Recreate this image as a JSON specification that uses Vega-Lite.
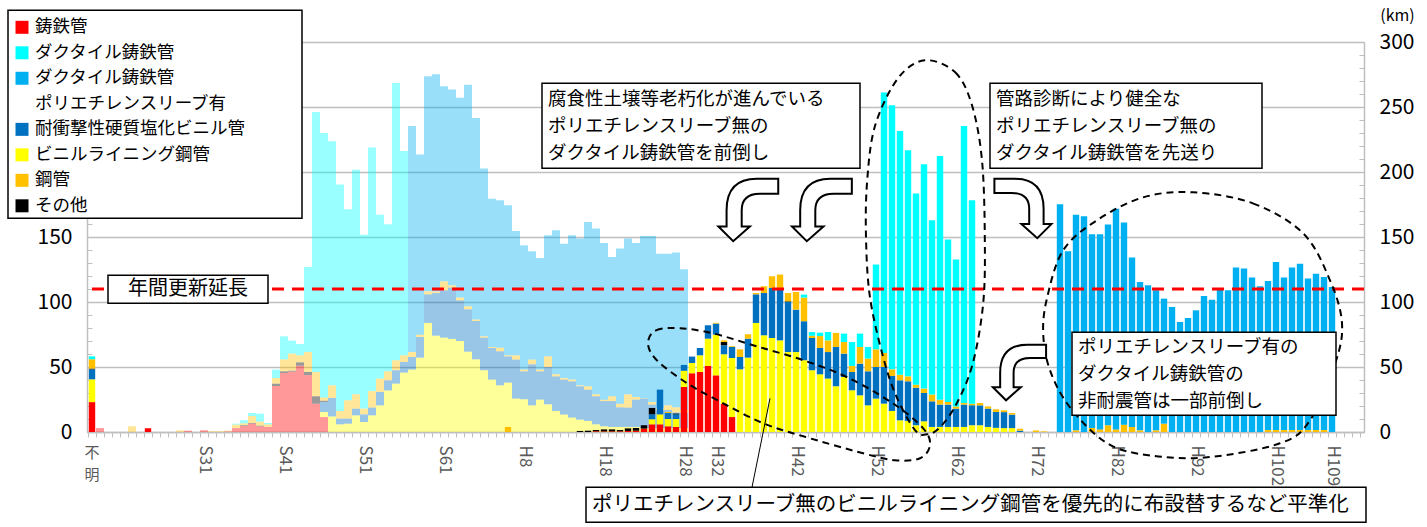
{
  "$schema": "https://vega.github.io/schema/vega-lite/v6.json",
  "width": 1277,
  "height": 390,
  "autosize": {"type": "none"},
  "padding": {"left": 87, "top": 42, "right": 63, "bottom": 95},
  "background": "white",
  "config": {"font": "Noto Sans CJK JP", "view": {"stroke": null}},
  "datasets": {
    "types": [
      {"t": "ci", "rank": 1}, {"t": "vlp", "rank": 2}, {"t": "hi", "rank": 3}, {"t": "ot", "rank": 4},
      {"t": "sp", "rank": 5}, {"t": "di", "rank": 6}, {"t": "dip", "rank": 7}
    ],
    "past": [
      {"year":"S18","ci":3},{"year":"S22","sp":4.4},{"year":"S28","sp":1.2},{"year":"S29","ci":1},{"year":"S31","ci":1.3},
      {"year":"S32","sp":0.6},{"year":"S33","sp":0.6},{"year":"S34","ci":0.5,"sp":0.5},
      {"year":"S35","ci":3,"sp":2.7,"di":0.7},{"year":"S36","ci":4.6,"ot":0.6,"sp":1.5,"di":2.3},
      {"year":"S37","ci":6.4,"ot":0.5,"sp":5.4,"di":2.3},{"year":"S38","ci":4.4,"ot":0.5,"sp":3.1,"di":6.1},
      {"year":"S39","ci":3.9,"sp":2,"di":1},{"year":"S40","ci":35.4,"ot":1.8,"sp":4.3,"di":6.5},
      {"year":"S41","ci":45.4,"ot":1.3,"sp":9.2,"di":17.7},{"year":"S42","ci":46.5,"ot":0.7,"sp":13.1,"di":10},
      {"year":"S43","ci":51,"ot":2.6,"sp":5.4,"di":8.7},{"year":"S44","ci":43.8,"ot":2.4,"sp":15.3,"di":65.5},
      {"year":"S45","ci":21.8,"ot":5.7,"sp":18.7,"di":200},{"year":"S46","ci":11.5,"vlp":3.9,"hi":7.7,"ot":1,"sp":2.5,"di":203.4},
      {"year":"S47","vlp":12,"hi":14.2,"sp":9.7,"di":187.7},{"year":"S48","vlp":5.9,"hi":4.4,"sp":5.9,"di":174.1},
      {"year":"S49","vlp":6.4,"hi":3.9,"sp":14.1,"di":146.9},{"year":"S50","vlp":12.8,"hi":5.2,"sp":11,"di":172.8},
      {"year":"S51","vlp":7.7,"hi":5.9,"sp":4.4,"di":133.8},{"year":"S52","vlp":12.8,"hi":6,"sp":12.7,"di":187.3},
      {"year":"S53","vlp":20.5,"hi":10.3,"sp":10.3,"di":126.1},{"year":"S54","vlp":32,"hi":7.8,"sp":6.9,"di":113.1},
      {"year":"S55","vlp":37.2,"hi":10.3,"sp":7.7,"di":213.3},{"year":"S56","vlp":45.7,"hi":8.2,"sp":5.1,"di":157.2},
      {"year":"S57","vlp":48,"hi":9.7,"sp":3.8,"dip":173.9},{"year":"S58","vlp":57.2,"hi":15.9,"sp":1.8,"dip":138.5},
      {"year":"S59","vlp":83.9,"hi":22,"sp":2.3,"dip":165.4},{"year":"S60","vlp":74.1,"hi":32.8,"sp":1.1,"dip":167.2},
      {"year":"S61","vlp":72.6,"hi":36.4,"sp":6.9,"dip":150},{"year":"S62","vlp":71.6,"hi":39.5,"sp":1.7,"dip":150.6},
      {"year":"S63","vlp":70,"hi":31.3,"sp":2.1,"dip":153.8},{"year":"H1","vlp":61.8,"hi":32.6,"sp":2.3,"dip":170.5},
      {"year":"H2","vlp":55.9,"hi":29.5,"sp":1.1,"dip":155},{"year":"H3","vlp":47.5,"hi":25.1,"sp":1,"dip":129},
      {"year":"H4","vlp":40.3,"hi":24.3,"sp":0.8,"dip":114.1},{"year":"H5","vlp":35.9,"hi":26.2,"sp":2.8,"dip":113.3},
      {"year":"H6","vlp":38,"hi":20.2,"sp":0.8,"dip":115.4},{"year":"H7","vlp":25.7,"hi":30,"sp":3.3,"dip":95.6},
      {"year":"H8","vlp":25.2,"hi":21.5,"sp":1.3,"dip":95.6},{"year":"H9","vlp":20.5,"hi":31.6,"sp":3.6,"dip":83.3},
      {"year":"H10","vlp":24.9,"hi":21.8,"sp":1.3,"dip":85.8},{"year":"H11","vlp":21.3,"hi":28.7,"sp":8.2,"dip":93.1},
      {"year":"H12","vlp":16.2,"hi":26.6,"sp":1.6,"dip":110.8},{"year":"H13","vlp":13.4,"hi":26.9,"sp":1.2,"dip":103.4},
      {"year":"H14","vlp":11.1,"hi":27.9,"sp":1.3,"dip":111},{"year":"H15","vlp":9.5,"hi":25.7,"sp":0.7,"dip":112.9},
      {"year":"H16","vlp":8.5,"hi":24.1,"sp":2.6,"dip":126.3},{"year":"H17","vlp":5.9,"hi":21.6,"sp":1.5,"dip":127.5},
      {"year":"H18","vlp":4.4,"hi":19.4,"sp":1.1,"dip":120.5},{"year":"H19","vlp":3.9,"hi":19.9,"sp":3.7,"dip":107.1},
      {"year":"H20","vlp":3.9,"hi":15.1,"sp":2.8,"dip":119.3},{"year":"H21","vlp":3.9,"hi":14.9,"sp":10.2,"dip":119.8},
      {"year":"H22","vlp":3.9,"hi":21,"sp":2,"dip":118.5},{"year":"H23","vlp":3,"hi":22.7,"sp":0.3,"dip":124.8},
      {"year":"H24","vlp":3,"hi":18.1,"sp":1.9,"dip":127.8},{"year":"H25","vlp":3,"hi":13.7,"sp":1.3,"dip":119.2},
      {"year":"H26","vlp":3,"hi":14,"sp":3.5,"dip":116.7},{"year":"H27","vlp":3,"hi":12,"sp":4,"dip":119},
      {"year":"H28","vlp":3,"hi":12,"sp":2,"dip":108.2}
    ],
    "plan": [
      {"year":"不明","ci":23,"vlp":17.5,"hi":7.7,"ot":0.6,"sp":7.2,"di":2.2},
      {"year":"S24","ci":2.8},{"year":"H6","sp":3.9},
      {"year":"H15","ot":0.8},{"year":"H16","ot":1},{"year":"H17","ci":0.5,"ot":1},{"year":"H18","ci":0.5,"ot":1.5},
      {"year":"H19","ci":0.5,"ot":1.5},{"year":"H20","ci":0.5,"ot":1},{"year":"H21","ci":0.8,"ot":2},{"year":"H22","ci":1,"ot":2.1},
      {"year":"H23","ci":2.6,"ot":2.6},{"year":"H24","ci":5.9,"vlp":3.9,"hi":3.8,"ot":4.9},
      {"year":"H25","ci":5.9,"vlp":7.7,"hi":19},{"year":"H26","ci":4.4,"vlp":5.6,"hi":4.6,"sp":0.8},
      {"year":"H27","ci":3.9,"vlp":6.1,"hi":3.6,"ot":0.6},{"year":"H28","ci":34.6,"vlp":12.5,"hi":4.5},
      {"year":"H29","ci":45.2,"vlp":7.9,"hi":4.9},{"year":"H30","ci":46.2,"vlp":12.8,"hi":5.6},
      {"year":"H31","ci":50.8,"vlp":21,"hi":10.3},{"year":"H32","ci":43.6,"vlp":31.3,"hi":8.5,"sp":0.6},
      {"year":"H33","ci":21.8,"vlp":38,"hi":6.9,"ot":2.5,"sp":1.3},{"year":"H34","ci":11.5,"vlp":45.4,"hi":8.5,"sp":0.6},
      {"year":"H35","vlp":48.2,"hi":9.5,"sp":5.9},{"year":"H36","vlp":57.2,"hi":14.6,"sp":3.4},
      {"year":"H37","vlp":83.9,"hi":22,"sp":1},{"year":"H38","vlp":74.4,"hi":32.5,"sp":5.2},
      {"year":"H39","vlp":72.3,"hi":38.5,"sp":9},{"year":"H40","vlp":70.5,"hi":40.3,"sp":10.3},
      {"year":"H41","vlp":61.5,"hi":38.5,"ot":0.5,"sp":6.4},{"year":"H42","vlp":61.5,"hi":32.6,"sp":13.6},
      {"year":"H43","vlp":55.2,"hi":30,"sp":18.2,"di":2.3},{"year":"H44","vlp":47.5,"hi":24.8,"sp":1.7,"di":2.9},
      {"year":"H45","vlp":44.4,"hi":20.2,"sp":9.2,"di":2.6},{"year":"H46","vlp":41.1,"hi":20.4,"sp":9,"di":6.4},
      {"year":"H47","vlp":35.2,"hi":30.2,"sp":10.8},{"year":"H48","vlp":42.3,"hi":18,"sp":8.9,"di":6.5},
      {"year":"H49","vlp":32.1,"hi":14.1,"sp":4.6,"di":18.4},{"year":"H50","vlp":28.2,"hi":24.4,"sp":12.8,"di":10.3},
      {"year":"H51","vlp":20.5,"hi":26.2,"sp":9.8,"di":8.9},{"year":"H52","vlp":25.7,"hi":24.3,"sp":13.6,"di":65.2},
      {"year":"H53","vlp":21.8,"hi":28.2,"sp":10.8,"di":200.3},{"year":"H54","vlp":16.2,"hi":26.9,"sp":5.1,"di":203.1},
      {"year":"H55","vlp":9,"hi":30.8,"sp":4.3,"di":187.4},{"year":"H56","vlp":8.5,"hi":30.5,"sp":3.8,"di":173.9},
      {"year":"H57","vlp":5.2,"hi":28.9,"sp":2.3,"di":147},{"year":"H58","vlp":8.2,"hi":21.8,"sp":3.4,"di":172.5},
      {"year":"H59","vlp":3.9,"hi":19.7,"sp":5.2,"di":134},{"year":"H60","vlp":3.9,"hi":17.2,"sp":3.8,"di":187.4},
      {"year":"H61","vlp":3.9,"hi":17.2,"sp":2,"di":124.9},{"year":"H62","vlp":3.9,"hi":14.1,"sp":1.7,"di":112.9},
      {"year":"H63","vlp":3.9,"hi":17.2,"sp":1.2,"di":213.1},{"year":"H64","vlp":5.2,"hi":15.4,"sp":1.2,"di":156.4},
      {"year":"H65","vlp":5.2,"hi":15.3,"sp":1.8},{"year":"H66","vlp":3.9,"hi":14.1,"sp":1.7},
      {"year":"H67","vlp":3.2,"hi":12.2,"sp":2.1},{"year":"H68","vlp":3,"hi":12.3,"sp":1.4},
      {"year":"H69","vlp":3,"hi":10.4,"sp":1.2},{"year":"H70","hi":1,"sp":1.5},{"year":"H72","sp":1.2},{"year":"H73","sp":0.5},
      {"year":"H75","dip":175.2},{"year":"H76","dip":139},{"year":"H77","sp":1.3,"dip":165.9},{"year":"H78","dip":165.9},
      {"year":"H79","sp":3.1,"dip":149},{"year":"H80","sp":2,"dip":150.1},{"year":"H81","sp":5.2,"dip":154.5},
      {"year":"H82","sp":2,"dip":169.7},{"year":"H83","sp":5.6,"dip":155.5},{"year":"H84","sp":3.9,"dip":130.3},
      {"year":"H85","sp":1.3,"dip":114.1},{"year":"H86","dip":112.8},{"year":"H87","sp":1.3,"dip":107.7},
      {"year":"H88","sp":6.4,"dip":96.2},{"year":"H89","dip":96.2},{"year":"H90","dip":84.6},{"year":"H91","dip":87.7},
      {"year":"H92","dip":93.6},{"year":"H93","dip":104.6},{"year":"H94","dip":101.8},{"year":"H95","dip":110},
      {"year":"H96","dip":109},{"year":"H97","dip":126.5},{"year":"H98","dip":125.7},{"year":"H99","dip":118.8},
      {"year":"H100","dip":112.1},{"year":"H101","sp":1.5,"dip":114.7},{"year":"H102","sp":1.5,"dip":129.3},
      {"year":"H103","sp":1.5,"dip":117.3},{"year":"H104","sp":1.5,"dip":125},{"year":"H105","sp":1.5,"dip":128},
      {"year":"H106","sp":1.5,"dip":116.5},{"year":"H107","sp":1.5,"dip":120.3},{"year":"H108","sp":1.5,"dip":117.7},
      {"year":"H109","dip":111.5}
    ],
    "outline": [
      {"e":"A","n":1,"i":69.5,"km":68.2},{"e":"A","n":2,"i":70.5,"km":78.2},{"e":"A","n":3,"i":73.5,"km":79.8},
      {"e":"A","n":4,"i":77.6,"km":75.9},{"e":"A","n":5,"i":83.1,"km":65.9},{"e":"A","n":6,"i":88.9,"km":55.2},
      {"e":"A","n":7,"i":94.4,"km":42.1},{"e":"A","n":8,"i":100.1,"km":22.1},{"e":"A","n":9,"i":103.9,"km":2.8},
      {"e":"A","n":10,"i":104.75,"km":-10.2},{"e":"A","n":11,"i":103.5,"km":-20.2},{"e":"A","n":12,"i":100.4,"km":-21.8},
      {"e":"A","n":13,"i":96.4,"km":-16.4},{"e":"A","n":14,"i":88.9,"km":-3.3},{"e":"A","n":15,"i":83.9,"km":6.7},
      {"e":"A","n":16,"i":78.9,"km":22.1},{"e":"A","n":17,"i":74.4,"km":37.5},{"e":"A","n":18,"i":70.6,"km":55.2},
      {"e":"B","n":1,"i":104.1,"km":285.9},{"e":"B","n":2,"i":107.9,"km":276.7},{"e":"B","n":3,"i":110,"km":251.3},
      {"e":"B","n":4,"i":111.25,"km":209},{"e":"B","n":5,"i":111.6,"km":149.8},{"e":"B","n":6,"i":111.4,"km":99},
      {"e":"B","n":7,"i":110.1,"km":52.8},{"e":"B","n":8,"i":108.1,"km":22.1},{"e":"B","n":9,"i":106,"km":3.6},
      {"e":"B","n":10,"i":104.4,"km":-1.8},{"e":"B","n":11,"i":102.9,"km":1.3},{"e":"B","n":12,"i":100.6,"km":26.7},
      {"e":"B","n":13,"i":98.9,"km":57.5},{"e":"B","n":14,"i":97.25,"km":103.6},{"e":"B","n":15,"i":96.75,"km":149.8},
      {"e":"B","n":16,"i":96.9,"km":193.6},{"e":"B","n":17,"i":97.9,"km":235.9},{"e":"B","n":18,"i":100.75,"km":272.1},
      {"e":"C","n":1,"i":137.6,"km":184.4},{"e":"C","n":2,"i":145.1,"km":175.9},{"e":"C","n":3,"i":151.4,"km":152.8},
      {"e":"C","n":4,"i":154.75,"km":116.7},{"e":"C","n":5,"i":156.25,"km":83.6},{"e":"C","n":6,"i":155.4,"km":52.8},
      {"e":"C","n":7,"i":152.25,"km":9},{"e":"C","n":8,"i":148.5,"km":-8.7},{"e":"C","n":9,"i":139.4,"km":-19.5},
      {"e":"C","n":10,"i":132.25,"km":-18},{"e":"C","n":11,"i":126.9,"km":-8.7},{"e":"C","n":12,"i":122.25,"km":19},
      {"e":"C","n":13,"i":119.75,"km":47.5},{"e":"C","n":14,"i":118.9,"km":75.9},{"e":"C","n":15,"i":119.4,"km":103.6},
      {"e":"C","n":16,"i":121.4,"km":139.8},{"e":"C","n":17,"i":125.6,"km":162.8},{"e":"C","n":18,"i":131.4,"km":180.5}
    ]
  },
  "layer": [
    {
      "resolve": {"axis": {"y": "independent"}},
      "layer": [
        {
          "data": {"name": "past"},
          "transform": [
            {"fold": ["ci", "vlp", "hi", "ot", "sp", "di", "dip"], "as": ["t", "v"]},
            {"filter": "datum.v > 0"},
            {"lookup": "t", "from": {"data": {"name": "types"}, "key": "t", "fields": ["rank"]}}
          ],
          "mark": {"type": "bar", "opacity": 0.4},
          "encoding": {
            "x": {
              "field": "year", "type": "nominal",
              "scale": {
                "domain": ["不明","S18","S19","S20","S21","S22","S23","S24","S25","S26","S27","S28","S29","S30","S31","S32","S33","S34","S35","S36","S37","S38","S39","S40","S41","S42","S43","S44","S45","S46","S47","S48","S49","S50","S51","S52","S53","S54","S55","S56","S57","S58","S59","S60","S61","S62","S63","H1","H2","H3","H4","H5","H6","H7","H8","H9","H10","H11","H12","H13","H14","H15","H16","H17","H18","H19","H20","H21","H22","H23","H24","H25","H26","H27","H28","H29","H30","H31","H32","H33","H34","H35","H36","H37","H38","H39","H40","H41","H42","H43","H44","H45","H46","H47","H48","H49","H50","H51","H52","H53","H54","H55","H56","H57","H58","H59","H60","H61","H62","H63","H64","H65","H66","H67","H68","H69","H70","H71","H72","H73","H74","H75","H76","H77","H78","H79","H80","H81","H82","H83","H84","H85","H86","H87","H88","H89","H90","H91","H92","H93","H94","H95","H96","H97","H98","H99","H100","H101","H102","H103","H104","H105","H106","H107","H108","H109","H110","H111","H112"],
                "paddingInner": 0, "paddingOuter": 0.3125, "align": 0.2
              },
              "axis": {
                "title": null, "labelAngle": 90, "labelAlign": "left", "labelBaseline": "middle",
                "labelExpr": "indexof(['S31','S41','S51','S61','H8','H18','H28','H32','H42','H52','H62','H72','H82','H92','H102','H109'], datum.value) >= 0 ? datum.value : ''",
                "labelOverlap": false, "labelFontSize": 17, "labelColor": "#595959", "labelPadding": 8,
                "tickBand": "extent", "tickSize": 5, "tickColor": "#BFBFBF", "tickWidth": 1,
                "domainColor": "#BFBFBF", "domainWidth": 1.5, "grid": false
              }
            },
            "y": {
              "field": "v", "type": "quantitative", "stack": "zero",
              "scale": {"domain": [0, 300], "nice": false, "zero": true},
              "axis": {
                "orient": "left", "title": null,
                "values": [0,10,20,30,40,50,60,70,80,90,100,110,120,130,140,150,160,170,180,190,200,210,220,230,240,250,260,270,280,290,300],
                "labelExpr": "datum.value % 50 === 0 && datum.value <= 150 ? datum.label : ''",
                "grid": true, "gridColor": "#BFBFBF", "gridWidth": 1.5,
                "gridOpacity": {"condition": {"test": "datum.value % 50 === 0", "value": 1}, "value": 0},
                "tickSize": -5, "tickColor": "#BFBFBF", "domainColor": "#BFBFBF", "domainWidth": 1.5,
                "labelFontSize": 21, "labelColor": "#000000", "labelPadding": 20
              }
            },
            "color": {
              "field": "t", "type": "nominal",
              "scale": {"domain": ["ci","vlp","hi","ot","sp","di","dip"], "range": ["#FF0000","#FFFF00","#0070C0","#000000","#FFC000","#00FFFF","#00B0F0"]},
              "legend": null
            },
            "order": {"field": "rank", "type": "quantitative", "sort": "ascending"}
          }
        },
        {
          "data": {"name": "plan"},
          "transform": [
            {"fold": ["ci", "vlp", "hi", "ot", "sp", "di", "dip"], "as": ["t", "v"]},
            {"filter": "datum.v > 0"},
            {"lookup": "t", "from": {"data": {"name": "types"}, "key": "t", "fields": ["rank"]}}
          ],
          "mark": {"type": "bar", "width": {"band": 0.8}},
          "encoding": {
            "x": {
              "field": "year", "type": "nominal",
              "axis": {
                "title": null, "labelAngle": 90, "labelAlign": "left", "labelBaseline": "middle",
                "labelExpr": "indexof(['S31','S41','S51','S61','H8','H18','H28','H32','H42','H52','H62','H72','H82','H92','H102','H109'], datum.value) >= 0 ? datum.value : ''",
                "labelOverlap": false, "labelFontSize": 17, "labelColor": "#595959", "labelPadding": 8,
                "tickBand": "extent", "tickSize": 5, "tickColor": "#BFBFBF", "tickWidth": 1,
                "domainColor": "#BFBFBF", "domainWidth": 1.5, "grid": false
              }
            },
            "y": {
              "field": "v", "type": "quantitative", "stack": "zero",
              "scale": {"domain": [0, 300], "nice": false},
              "axis": {
                "orient": "right", "title": "(km)", "titleAngle": 0, "titleX": 33, "titleY": -27,
                "titleAlign": "center", "titleBaseline": "middle", "titleFontSize": 16, "titleFontWeight": "normal", "titleColor": "#000000",
                "values": [0,10,20,30,40,50,60,70,80,90,100,110,120,130,140,150,160,170,180,190,200,210,220,230,240,250,260,270,280,290,300],
                "labelExpr": "datum.value % 50 === 0 ? datum.label : ''",
                "grid": false, "tickSize": -5, "tickColor": "#BFBFBF", "domainColor": "#BFBFBF", "domainWidth": 1.5,
                "labelFontSize": 21, "labelColor": "#000000", "labelPadding": 20
              }
            },
            "color": {"field": "t", "type": "nominal", "legend": null},
            "order": {"field": "rank", "type": "quantitative", "sort": "ascending"}
          }
        },
        {
          "data": {"values": [{}]},
          "mark": {"type": "rule", "color": "#FF0000", "strokeWidth": 3, "strokeDash": [12, 8]},
          "encoding": {"y": {"datum": 110, "type": "quantitative", "axis": null}}
        },
        {
          "data": {"values": [{}]},
          "mark": {"type": "text", "text": ["不", "明"], "fontSize": 15, "lineHeight": 22, "color": "#595959", "baseline": "top", "align": "center"},
          "encoding": {
            "x": {
              "datum": "不明", "type": "nominal",
              "axis": {
                "title": null, "labelAngle": 90, "labelAlign": "left", "labelBaseline": "middle",
                "labelExpr": "indexof(['S31','S41','S51','S61','H8','H18','H28','H32','H42','H52','H62','H72','H82','H92','H102','H109'], datum.value) >= 0 ? datum.value : ''",
                "labelOverlap": false, "labelFontSize": 17, "labelColor": "#595959", "labelPadding": 8,
                "tickBand": "extent", "tickSize": 5, "tickColor": "#BFBFBF", "tickWidth": 1,
                "domainColor": "#BFBFBF", "domainWidth": 1.5, "grid": false
              }
            },
            "y": {"datum": -11, "type": "quantitative", "axis": null}
          }
        }
      ]
    },
    {
      "layer": [
        {
          "data": {"name": "outline"},
          "mark": {"type": "line", "interpolate": "cardinal-closed", "color": "#000000", "strokeWidth": 2, "strokeDash": [7, 5]},
          "encoding": {
            "x": {"field": "i", "type": "quantitative", "scale": {"domain": [-0.625, 159], "nice": false, "zero": false}, "axis": null},
            "y": {"field": "km", "type": "quantitative", "axis": null},
            "detail": {"field": "e"},
            "order": {"field": "n", "type": "quantitative"}
          }
        },
        {
          "data": {"values": [{}]},
          "mark": {"type": "rule", "color": "#000000", "strokeWidth": 1},
          "encoding": {
            "x": {"datum": 84.75, "type": "quantitative", "axis": null}, "x2": {"datum": 82.5},
            "y": {"datum": 25.9, "type": "quantitative", "axis": null}, "y2": {"datum": -42.5}
          }
        },
        {
          "data": {"values": [{}]},
          "mark": {"type": "rect", "fill": "#FFFFFF", "stroke": "#000000", "strokeWidth": 1.5},
          "encoding": {
            "x": {"datum": -10.5, "type": "quantitative", "axis": null}, "x2": {"datum": 26.25},
            "y": {"datum": 324.4, "type": "quantitative", "axis": null}, "y2": {"datum": 164.4}
          }
        },
        {
          "data": {"values": [{}]},
          "mark": {"type": "text", "text": ["鋳鉄管", "ダクタイル鋳鉄管", "ダクタイル鋳鉄管", "ポリエチレンスリーブ有", "耐衝撃性硬質塩化ビニル管", "ビニルライニング鋼管", "鋼管", "その他"], "fontSize": 17.5, "lineHeight": 25.5, "color": "#000000", "align": "left", "baseline": "middle"},
          "encoding": {
            "x": {"datum": -7.125, "type": "quantitative", "axis": null},
            "y": {"datum": 311.3, "type": "quantitative", "axis": null}
          }
        },
        {
          "data": {"values": [{}]},
          "mark": {"type": "point", "shape": "square", "size": 169, "filled": true, "color": "#FF0000", "opacity": 1},
          "encoding": {"x": {"datum": -8.75, "type": "quantitative", "axis": null}, "y": {"datum": 311.3, "type": "quantitative", "axis": null}}
        },
        {
          "data": {"values": [{}]},
          "mark": {"type": "point", "shape": "square", "size": 169, "filled": true, "color": "#00FFFF", "opacity": 1},
          "encoding": {"x": {"datum": -8.75, "type": "quantitative", "axis": null}, "y": {"datum": 291.7, "type": "quantitative", "axis": null}}
        },
        {
          "data": {"values": [{}]},
          "mark": {"type": "point", "shape": "square", "size": 169, "filled": true, "color": "#00B0F0", "opacity": 1},
          "encoding": {"x": {"datum": -8.75, "type": "quantitative", "axis": null}, "y": {"datum": 272.1, "type": "quantitative", "axis": null}}
        },
        {
          "data": {"values": [{}]},
          "mark": {"type": "point", "shape": "square", "size": 169, "filled": true, "color": "#0070C0", "opacity": 1},
          "encoding": {"x": {"datum": -8.75, "type": "quantitative", "axis": null}, "y": {"datum": 232.8, "type": "quantitative", "axis": null}}
        },
        {
          "data": {"values": [{}]},
          "mark": {"type": "point", "shape": "square", "size": 169, "filled": true, "color": "#FFFF00", "opacity": 1},
          "encoding": {"x": {"datum": -8.75, "type": "quantitative", "axis": null}, "y": {"datum": 213.2, "type": "quantitative", "axis": null}}
        },
        {
          "data": {"values": [{}]},
          "mark": {"type": "point", "shape": "square", "size": 169, "filled": true, "color": "#FFC000", "opacity": 1},
          "encoding": {"x": {"datum": -8.75, "type": "quantitative", "axis": null}, "y": {"datum": 193.6, "type": "quantitative", "axis": null}}
        },
        {
          "data": {"values": [{}]},
          "mark": {"type": "point", "shape": "square", "size": 169, "filled": true, "color": "#000000", "opacity": 1},
          "encoding": {"x": {"datum": -8.75, "type": "quantitative", "axis": null}, "y": {"datum": 174.0, "type": "quantitative", "axis": null}}
        },
        {
          "data": {"values": [{}]},
          "mark": {"type": "rect", "fill": "#FFFFFF", "stroke": "#000000", "strokeWidth": 1.5},
          "encoding": {
            "x": {"datum": 2, "type": "quantitative", "axis": null}, "x2": {"datum": 22},
            "y": {"datum": 120.5, "type": "quantitative", "axis": null}, "y2": {"datum": 99}
          }
        },
        {
          "data": {"values": [{}]},
          "mark": {"type": "text", "text": "年間更新延長", "fontSize": 20, "color": "#000000", "align": "center", "baseline": "middle"},
          "encoding": {
            "x": {"datum": 12, "type": "quantitative", "axis": null},
            "y": {"datum": 109.8, "type": "quantitative", "axis": null}
          }
        },
        {
          "data": {"values": [{}]},
          "mark": {"type": "rect", "fill": "#FFFFFF", "stroke": "#000000", "strokeWidth": 1.5},
          "encoding": {
            "x": {"datum": 56.25, "type": "quantitative", "axis": null}, "x2": {"datum": 96},
            "y": {"datum": 268.2, "type": "quantitative", "axis": null}, "y2": {"datum": 202.8}
          }
        },
        {
          "data": {"values": [{}]},
          "mark": {"type": "text", "text": ["腐食性土壌等老朽化が進んでいる", "ポリエチレンスリーブ無の", "ダクタイル鋳鉄管を前倒し"], "fontSize": 18.5, "lineHeight": 27, "color": "#000000", "align": "left", "baseline": "middle"},
          "encoding": {
            "x": {"datum": 57, "type": "quantitative", "axis": null},
            "y": {"datum": 255.9, "type": "quantitative", "axis": null}
          }
        },
        {
          "data": {"values": [{}]},
          "mark": {"type": "rect", "fill": "#FFFFFF", "stroke": "#000000", "strokeWidth": 1.5},
          "encoding": {
            "x": {"datum": 112.25, "type": "quantitative", "axis": null}, "x2": {"datum": 146.25},
            "y": {"datum": 268.2, "type": "quantitative", "axis": null}, "y2": {"datum": 202.8}
          }
        },
        {
          "data": {"values": [{}]},
          "mark": {"type": "text", "text": ["管路診断により健全な", "ポリエチレンスリーブ無の", "ダクタイル鋳鉄管を先送り"], "fontSize": 18.5, "lineHeight": 27, "color": "#000000", "align": "left", "baseline": "middle"},
          "encoding": {
            "x": {"datum": 113, "type": "quantitative", "axis": null},
            "y": {"datum": 255.9, "type": "quantitative", "axis": null}
          }
        },
        {
          "data": {"values": [{}]},
          "mark": {"type": "rect", "fill": "#FFFFFF", "stroke": "#000000", "strokeWidth": 1.5},
          "encoding": {
            "x": {"datum": 122.5, "type": "quantitative", "axis": null}, "x2": {"datum": 155.5},
            "y": {"datum": 76.7, "type": "quantitative", "axis": null}, "y2": {"datum": 12.8}
          }
        },
        {
          "data": {"values": [{}]},
          "mark": {"type": "text", "text": ["ポリエチレンスリーブ有の", "ダクタイル鋳鉄管の", "非耐震管は一部前倒し"], "fontSize": 18.5, "lineHeight": 27, "color": "#000000", "align": "left", "baseline": "middle"},
          "encoding": {
            "x": {"datum": 123.25, "type": "quantitative", "axis": null},
            "y": {"datum": 65.2, "type": "quantitative", "axis": null}
          }
        },
        {
          "data": {"values": [{}]},
          "mark": {"type": "rect", "fill": "#FFFFFF", "stroke": "#000000", "strokeWidth": 1.5},
          "encoding": {
            "x": {"datum": 61.75, "type": "quantitative", "axis": null}, "x2": {"datum": 159.25},
            "y": {"datum": -42.5, "type": "quantitative", "axis": null}, "y2": {"datum": -69.5}
          }
        },
        {
          "data": {"values": [{}]},
          "mark": {"type": "text", "text": "ポリエチレンスリーブ無のビニルライニング鋼管を優先的に布設替するなど平準化", "fontSize": 20.5, "color": "#000000", "align": "left", "baseline": "middle"},
          "encoding": {
            "x": {"datum": 62.5, "type": "quantitative", "axis": null},
            "y": {"datum": -56.4, "type": "quantitative", "axis": null}
          }
        },
        {
          "data": {"values": [{}]},
          "mark": {"type": "point", "shape": "M0.96,-1 L0.96,-0.53 L0.38,-0.53 Q-0.2,-0.53 -0.2,0 L-0.2,0.51 L0.06,0.51 L-0.47,0.98 L-0.94,0.51 L-0.68,0.51 L-0.68,0 Q-0.68,-1 0.28,-1 Z", "size": 3969, "filled": true, "fill": "#FFFFFF", "stroke": "#000000", "strokeWidth": 2, "opacity": 1},
          "encoding": {
            "x": {"datum": 82, "type": "quantitative", "axis": null},
            "y": {"datum": 170.5, "type": "quantitative", "axis": null}
          }
        },
        {
          "data": {"values": [{}]},
          "mark": {"type": "point", "shape": "M0.96,-1 L0.96,-0.53 L0.38,-0.53 Q-0.2,-0.53 -0.2,0 L-0.2,0.51 L0.06,0.51 L-0.47,0.98 L-0.94,0.51 L-0.68,0.51 L-0.68,0 Q-0.68,-1 0.28,-1 Z", "size": 3969, "filled": true, "fill": "#FFFFFF", "stroke": "#000000", "strokeWidth": 2, "opacity": 1},
          "encoding": {
            "x": {"datum": 91.2, "type": "quantitative", "axis": null},
            "y": {"datum": 170.5, "type": "quantitative", "axis": null}
          }
        },
        {
          "data": {"values": [{}]},
          "mark": {"type": "point", "shape": "M-0.96,-1 L-0.96,-0.53 L-0.38,-0.53 Q0.2,-0.53 0.2,0 L0.2,0.51 L-0.06,0.51 L0.47,0.98 L0.94,0.51 L0.68,0.51 L0.68,0 Q0.68,-1 -0.28,-1 Z", "size": 3600, "filled": true, "fill": "#FFFFFF", "stroke": "#000000", "strokeWidth": 2, "opacity": 1},
          "encoding": {
            "x": {"datum": 116.4, "type": "quantitative", "axis": null},
            "y": {"datum": 171.7, "type": "quantitative", "axis": null}
          }
        },
        {
          "data": {"values": [{}]},
          "mark": {"type": "point", "shape": "M0.96,-1 L0.96,-0.53 L0.38,-0.53 Q-0.2,-0.53 -0.2,0 L-0.2,0.51 L0.06,0.51 L-0.47,0.98 L-0.94,0.51 L-0.68,0.51 L-0.68,0 Q-0.68,-1 0.28,-1 Z", "size": 3136, "filled": true, "fill": "#FFFFFF", "stroke": "#000000", "strokeWidth": 2, "opacity": 1},
          "encoding": {
            "x": {"datum": 115.9, "type": "quantitative", "axis": null},
            "y": {"datum": 45.5, "type": "quantitative", "axis": null}
          }
        }
      ]
    }
  ],
  "resolve": {"scale": {"x": "independent"}}
}
